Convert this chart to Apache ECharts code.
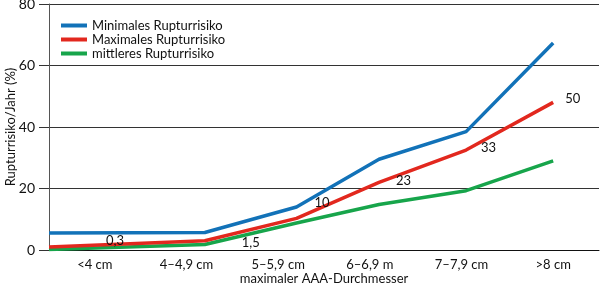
<!DOCTYPE html>
<html style="height: 100%">
    <head>
        <meta charset="utf-8">
    </head>
    <body style="height: 100%; margin: 0">
        <div id="container" style="height: 100%"></div>

        <script type="text/javascript" src="https://cdn.jsdelivr.net/npm/echarts@6/dist/echarts.min.js"></script>

        <script type="text/javascript">
// category labels along the bottom
var categories = ['<4 cm', '4\u20134,9 cm', '5\u20135,9 cm', '6\u20136,9 m', '7\u20137,9 cm', '>8 cm'];
// where each line bends, in category units (0 = y axis, 6 = right edge)
var bendX = [0, 1.7, 2.7, 3.6, 4.55, 5.5];
var minRisk = [5.5, 5.7, 14, 29.5, 38.5, 67.3];
var maxRisk = [1, 3, 10.3, 22, 32.5, 48];
var meanRisk = [0.2, 1.8, 8.8, 14.8, 19.3, 29];
var maxLabels = ['0,3', '1,5', '10', '23', '33', '50'];
var yTicks = [0, 20, 40, 60, 80];

var dom = document.getElementById('container');
var myChart = echarts.init(dom);
var font = 'Lato';

var labelOffsets = [[52, -6], [32, 2], [13, -16], [12, -2], [10, -2], [7, -4]];

function pairs(vals) {
  return vals.map(function (v, i) { return [bendX[i], v]; });
}

var maxData = maxRisk.map(function (v, i) {
  return {
    value: [bendX[i], v],
    label: {
      show: true,
      formatter: maxLabels[i],
      position: 'right',
      offset: labelOffsets[i],
      color: '#111',
      fontFamily: font,
      fontSize: 13
    }
  };
});

var option = {
  animation: false,
  grid: { left: 49, right: 1, top: 4, bottom: 38, outerBoundsMode: 'none' },
  legend: {
    orient: 'vertical',
    left: 56,
    top: 14,
    itemWidth: 26,
    itemHeight: 4,
    itemGap: 1,
    icon: 'rect',
    textStyle: { fontFamily: font, fontSize: 13, color: '#111' },
    data: ['Minimales Rupturrisiko', 'Maximales Rupturrisiko', 'mittleres Rupturrisiko']
  },
  xAxis: [
    {
      type: 'category',
      data: categories,
      boundaryGap: true,
      name: 'maximaler AAA-Durchmesser',
      nameLocation: 'middle',
      nameGap: 22,
      nameMoveOverlap: false,
      nameTextStyle: { fontFamily: font, fontSize: 13, color: '#111' },
      axisLine: { lineStyle: { color: '#111', width: 1 } },
      axisTick: { length: 10, lineStyle: { color: '#333' } },
      axisLabel: { fontFamily: font, fontSize: 13, color: '#111', margin: 8 },
      splitLine: { show: false }
    },
    {
      type: 'value',
      min: 0,
      max: 6,
      show: false
    }
  ],
  yAxis: {
    type: 'value',
    min: yTicks[0],
    max: yTicks[yTicks.length - 1],
    interval: 20,
    name: 'Rupturrisiko/Jahr (%)',
    nameLocation: 'middle',
    nameGap: 32,
    nameMoveOverlap: false,
    nameTextStyle: { fontFamily: font, fontSize: 13, color: '#111' },
    axisLine: { show: true, lineStyle: { color: '#555', width: 1 } },
    axisTick: { show: true, length: 10, lineStyle: { color: '#333' } },
    axisLabel: { fontFamily: font, fontSize: 14, color: '#111', margin: 14 },
    splitLine: { lineStyle: { color: '#333', width: 1 } }
  },
  series: [
    {
      name: 'Minimales Rupturrisiko',
      type: 'line',
      xAxisIndex: 1,
      data: pairs(minRisk),
      symbol: 'none',
      color: '#1272b8',
      lineStyle: { width: 3.5 },
      z: 3
    },
    {
      name: 'Maximales Rupturrisiko',
      type: 'line',
      xAxisIndex: 1,
      data: maxData,
      symbol: 'circle',
      symbolSize: 0,
      showSymbol: true,
      color: '#e2281e',
      lineStyle: { width: 3.5 },
      z: 4
    },
    {
      name: 'mittleres Rupturrisiko',
      type: 'line',
      xAxisIndex: 1,
      data: pairs(meanRisk),
      symbol: 'none',
      color: '#17a54b',
      lineStyle: { width: 3.5 },
      z: 2
    }
  ]
};

myChart.setOption(option);
        </script>
    </body>
</html>
